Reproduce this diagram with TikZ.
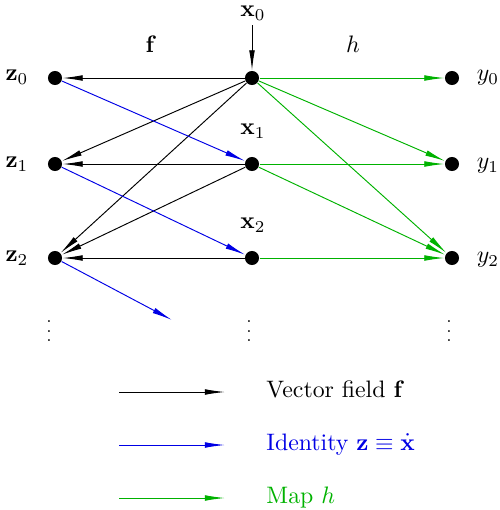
\documentclass[tikz,border=0pt]{standalone}
\usetikzlibrary{arrows.meta}
\definecolor{mygreen}{rgb}{0,0.7,0}
\definecolor{myblue}{rgb}{0,0,0.9}
\begin{document}
\begin{tikzpicture}[x=0.42pt,y=-0.42pt,
  dot/.style={circle,fill=black,inner sep=0pt,minimum size=5.9pt},
  lbl/.style={inner sep=0pt},
  arr/.style={-{Latex[length=8.5pt,width=2.4pt]},line width=0.4pt},
  farr/.style={arr,black},
  barr/.style={arr,myblue},
  garr/.style={arr,mygreen}]
\useasboundingbox (0,0) rectangle (500,510);
% dots
\node[dot] (z0) at (55,78) {};
\node[dot] (z1) at (55,164) {};
\node[dot] (z2) at (55,258) {};
\node[dot] (x0) at (252,78) {};
\node[dot] (x1) at (252,164) {};
\node[dot] (x2) at (252,258) {};
\node[dot] (y0) at (452,78) {};
\node[dot] (y1) at (452,164) {};
\node[dot] (y2) at (452,258) {};
% labels
\node[lbl] (lz0) at (17,77) {$\mathbf{z}_0$};
\node[lbl] (lz1) at (17,164) {$\mathbf{z}_1$};
\node[lbl] (lz2) at (17,258) {$\mathbf{z}_2$};
\node[lbl] (lx0) at (253,13) {$\mathbf{x}_0$};
\node[lbl] (lx1) at (253,131) {$\mathbf{x}_1$};
\node[lbl] (lx2) at (253,225) {$\mathbf{x}_2$};
\node[lbl] (ly0) at (488,78) {$y_0$};
\node[lbl] (ly1) at (488,166) {$y_1$};
\node[lbl] (ly2) at (488,260) {$y_2$};
\node[lbl] (lf) at (151,44) {$\mathbf{f}$};
\node[lbl] (lh) at (353,44) {$h$};
\node[lbl,font=\scriptsize] (d1) at (49,324) {$\vdots$};
\node[lbl,font=\scriptsize] (d2) at (249,324) {$\vdots$};
\node[lbl,font=\scriptsize] (d3) at (449,324) {$\vdots$};
% input arrow
\coordinate (in) at (252,25);
\draw[farr] (in) -- (x0);
% f arrows
\draw[farr] (x0) -- (z0);
\draw[farr] (x0) -- (z1);
\draw[farr] (x0) -- (z2);
\draw[farr] (x1) -- (z1);
\draw[farr] (x1) -- (z2);
\draw[farr] (x2) -- (z2);
% identity arrows
\coordinate (zend) at (172,320);
\draw[barr] (z0) -- (x1);
\draw[barr] (z1) -- (x2);
\draw[barr] (z2) -- (zend);
% h arrows
\draw[garr] (x0) -- (y0);
\draw[garr] (x0) -- (y1);
\draw[garr] (x0) -- (y2);
\draw[garr] (x1) -- (y1);
\draw[garr] (x1) -- (y2);
\draw[garr] (x2) -- (y2);
% legend
\coordinate (la1) at (119,392);
\coordinate (lb1) at (225,392);
\coordinate (la2) at (119,445);
\coordinate (lb2) at (225,445);
\coordinate (la3) at (119,498);
\coordinate (lb3) at (225,498);
\draw[farr] (la1) -- (lb1);
\draw[barr] (la2) -- (lb2);
\draw[garr] (la3) -- (lb3);
\node[lbl,anchor=base west] (t1) at (266,397) {Vector field $\mathbf{f}$};
\node[lbl,anchor=base west,text=myblue] (t2) at (266,450) {Identity $\mathbf{z}\equiv\dot{\mathbf{x}}$};
\node[lbl,anchor=base west,text=mygreen] (t3) at (266,503) {Map $h$};
\end{tikzpicture}
\end{document}
